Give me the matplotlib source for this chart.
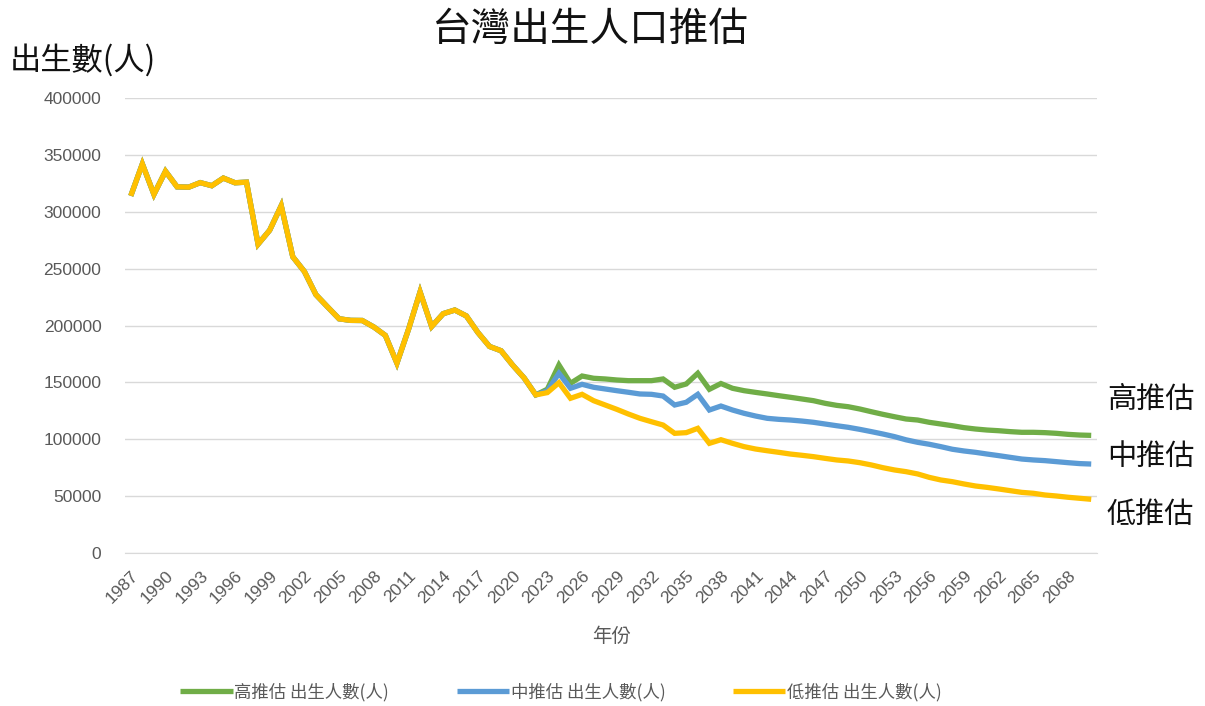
import numpy as np
import matplotlib
matplotlib.use("Agg")
import matplotlib.pyplot as plt

plt.rcParams["font.family"] = ["Noto Sans CJK TC", "DejaVu Sans"]

# ─────────────────────────────────────────────
# Data (births per year)
# ─────────────────────────────────────────────
years = np.arange(1987, 2071)

# 1987-2022 shared history
history = [
    314000, 342000, 315300, 335600, 321900, 321600, 325600, 322900, 329600, 325500,
    326000, 271500, 283700, 305300, 260400, 247500, 227100, 216400, 205900, 204500,
    204400, 198700, 191300, 166900, 196600, 229500, 199100, 210400, 213600, 208400,
    193800, 181600, 177800, 165200, 153800, 139000,
]

# 2023-2070 projections
high_proj = [
    144000, 165300, 149200, 155600, 153600, 153000, 152100, 151500, 151500, 151500,
    153000, 145700, 148600, 158000, 143900, 149000, 144800, 142700, 141200, 139800,
    138300, 136900, 135400, 133900, 131600, 129800, 128600, 126600, 124200, 121900,
    119800, 117800, 116900, 114900, 113400, 111900, 110200, 109000, 108100, 107500,
    106700, 106100, 106100, 105800, 105200, 104300, 103700, 103400,
]
mid_proj = [
    142500, 158000, 144800, 148300, 145700, 144200, 142700, 141300, 139800, 139500,
    138000, 130100, 132500, 139500, 125700, 129200, 125700, 122800, 120400, 118400,
    117500, 116900, 116000, 114900, 113400, 111900, 110500, 108700, 106700, 104600,
    102300, 99500, 97300, 95600, 93500, 91200, 89700, 88500, 87000, 85600,
    84100, 82600, 81800, 81200, 80300, 79400, 78600, 78200,
]
low_proj = [
    141000, 149700, 136000, 139500, 133900, 130100, 126300, 122200, 118400, 115400,
    112500, 105200, 105800, 109600, 96400, 99600, 96400, 93500, 91400, 89900,
    88500, 87000, 85900, 84700, 83200, 81800, 80900, 79400, 77400, 75000,
    73000, 71500, 69500, 66500, 64200, 62700, 60700, 58900, 57700, 56300,
    54800, 53300, 52500, 51000, 50100, 49000, 48100, 47200,
]

series_names = ["高推估 出生人數(人)", "中推估 出生人數(人)", "低推估 出生人數(人)"]
series_colors = ["#70AD47", "#5B9BD5", "#FFC000"]
side_labels = ["高推估", "中推估", "低推估"]

yticks = [0, 50000, 100000, 150000, 200000, 250000, 300000, 350000, 400000]
xticks = np.arange(1987, 2069, 3)

# ─────────────────────────────────────────────
# Plot
# ─────────────────────────────────────────────
fig = plt.figure(figsize=(12.05, 7.06), dpi=100)
ax = fig.add_axes([125 / 1205, 1 - 553 / 706, 972 / 1205, 455 / 706])

lines = []
for proj, name, color in zip([high_proj, mid_proj, low_proj], series_names, series_colors):
    values = np.array(history + proj)
    ln, = ax.plot(years, values, color=color, lw=3.8, label=name,
                  solid_joinstyle="miter", solid_capstyle="butt")
    lines.append(ln)

ax.set_xlim(1986.5, 2070.5)
ax.set_ylim(0, 400000)
ax.set_yticks(yticks)
ax.set_yticklabels([str(v) for v in yticks], family="Liberation Sans",
                   fontsize=12.5, color="#595959")
ax.set_xticks(xticks)
ax.set_xticklabels([str(y) for y in xticks], rotation=45, ha="right",
                   rotation_mode="anchor", family="Liberation Sans",
                   fontsize=12.5, color="#595959")
ax.tick_params(axis="y", length=0, pad=17)
ax.tick_params(axis="x", length=0, pad=11)

ax.grid(axis="y", color="#D9D9D9", lw=1)
ax.set_axisbelow(True)
for side in ["top", "right", "left"]:
    ax.spines[side].set_visible(False)
ax.spines["bottom"].set_color("#D9D9D9")

fig.text(612 / 1205, 1 - 636 / 706, "年份", ha="center", va="center",
         fontsize=14, color="#595959")
fig.text(590 / 1205, 1 - 30 / 706, "台灣出生人口推估", ha="center", va="center",
         fontsize=28.5, color="#111111")
fig.text(10 / 1205, 1 - 60 / 706, "出生數(人)", ha="left", va="center",
         fontsize=22.5, color="#111111")

for label, ypix in zip(side_labels, [400, 457, 515]):
    fig.text(1107 / 1205, 1 - ypix / 706, label, ha="left", va="center",
             fontsize=21, color="#111111")

fig.legend(handles=lines, loc="center", bbox_to_anchor=(561 / 1205, 1 - 692 / 706),
           ncol=3, frameon=False, fontsize=12.5, handlelength=3.0,
           handletextpad=0.1, columnspacing=3.9, labelcolor="#595959")

fig.savefig("out.png", dpi=100)
